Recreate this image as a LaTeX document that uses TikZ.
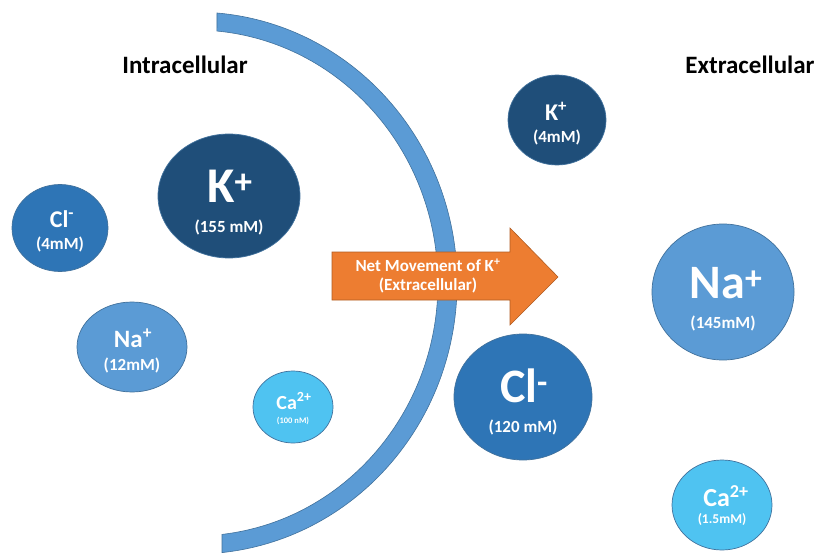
\documentclass[tikz,border=0pt]{standalone}
\usepackage{fontspec}
\setmainfont{Carlito}
\usetikzlibrary{shapes.geometric}

\definecolor{navy}{HTML}{1F4E79}
\definecolor{midblue}{HTML}{2E75B6}
\definecolor{lightblue}{HTML}{5B9BD5}
\definecolor{cyanblue}{HTML}{4FC3F1}
\definecolor{edgeblue}{HTML}{41719C}
\definecolor{arroworange}{HTML}{ED7D31}
\definecolor{arrowedge}{HTML}{B05C22}

\newcommand{\fsz}[1]{\fontsize{#1}{#1}\selectfont}

\tikzset{
  ion/.style={ellipse, draw=edgeblue, line width=0.7pt, inner sep=0pt},
  iontext/.style={text=white, font=\bfseries, inner sep=0pt, anchor=center},
  heading/.style={font=\bfseries\fsz{25}, text=black, inner sep=0pt},
  membrane/.style={fill=lightblue, draw=edgeblue, line width=0.6pt},
  flowarrow/.style={fill=arroworange, draw=arrowedge, line width=0.6pt}
}

\begin{document}
\begin{tikzpicture}[x=1pt, y=-1pt]
  \useasboundingbox (0,0) rectangle (818,553);

  % cell membrane (curved band)
  \path[membrane] (217,13)
    arc[start angle=-85.2, end angle=84.1, x radius=262, y radius=271]
    -- (222,534.4)
    arc[start angle=83.6, end angle=-84.8, x radius=243, y radius=253]
    -- cycle;

  % headings
  \node[heading] (intra) at (185,65) {Intracellular};
  \node[heading] (extra) at (750,65) {Extracellular};

  % intracellular ions
  \node[ion, fill=navy, minimum width=142, minimum height=124] (kin) at (229,196) {};
  \node[iontext, font=\bfseries\fsz{50}] (kinsym) at (230,186) {K\textsuperscript{+}};
  \node[iontext, font=\bfseries\fsz{17}] (kinconc) at (229,227) {(155 mM)};

  \node[ion, fill=midblue, minimum width=96, minimum height=87] (clin) at (60,228) {};
  \node[iontext, font=\bfseries\fsz{24}] (clinsym) at (62,219) {Cl\textsuperscript{-}};
  \node[iontext, font=\bfseries\fsz{17}] (clinconc) at (60,244) {(4mM)};

  \node[ion, fill=lightblue, minimum width=110, minimum height=90] (nain) at (132,347) {};
  \node[iontext, font=\bfseries\fsz{25}] (nainsym) at (133,338) {Na\textsuperscript{+}};
  \node[iontext, font=\bfseries\fsz{17}] (nainconc) at (132,365) {(12mM)};

  \node[ion, fill=cyanblue, minimum width=80, minimum height=72] (cain) at (293,407) {};
  \node[iontext, font=\bfseries\fsz{20}] (cainsym) at (294,401) {Ca\textsuperscript{2+}};
  \node[iontext, font=\bfseries\fsz{8.5}] (cainconc) at (293,421) {(100 nM)};

  % extracellular ions
  \node[ion, fill=navy, minimum width=98, minimum height=90] (kout) at (557,120) {};
  \node[iontext, font=\bfseries\fsz{24}] (koutsym) at (556,111) {K\textsuperscript{+}};
  \node[iontext, font=\bfseries\fsz{17}] (koutconc) at (557,137) {(4mM)};

  \node[ion, fill=lightblue, minimum width=142, minimum height=136] (naout) at (723,292) {};
  \node[iontext, font=\bfseries\fsz{48}] (naoutsym) at (726,283) {Na\textsuperscript{+}};
  \node[iontext, font=\bfseries\fsz{17}] (naoutconc) at (723,323) {(145mM)};

  \node[ion, fill=midblue, minimum width=138, minimum height=126] (clout) at (523,397) {};
  \node[iontext, font=\bfseries\fsz{48}] (cloutsym) at (524,386) {Cl\textsuperscript{-}};
  \node[iontext, font=\bfseries\fsz{17}] (cloutconc) at (523,427) {(120 mM)};

  \node[ion, fill=cyanblue, minimum width=100, minimum height=90] (caout) at (722,505) {};
  \node[iontext, font=\bfseries\fsz{26}] (caoutsym) at (726,496) {Ca\textsuperscript{2+}};
  \node[iontext, font=\bfseries\fsz{13.5}] (caoutconc) at (722,520) {(1.5mM)};

  % net movement arrow
  \path[flowarrow] (332,252) -- (510,252) -- (510,228) -- (558,277)
    -- (510,325) -- (510,300) -- (332,300) -- cycle;
  \node[iontext, font=\bfseries\fsz{17}, align=center] (flow) at (428,276)
    {Net Movement of K\textsuperscript{+}\\[2pt](Extracellular)};
\end{tikzpicture}
\end{document}
